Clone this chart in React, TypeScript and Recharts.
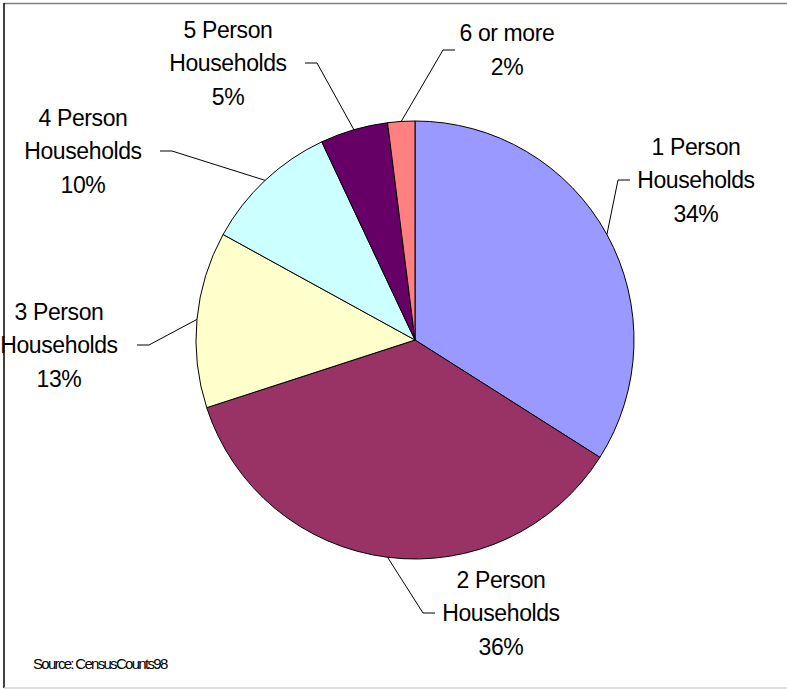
import React from 'react';
import { PieChart, Pie, Cell } from 'recharts';

// ---- data ----
const categories = [
  '1 Person Households',
  '2 Person Households',
  '3 Person Households',
  '4 Person Households',
  '5 Person Households',
  '6 or more',
];
const values = [34, 36, 13, 10, 5, 2];
const percentLabels = ['34%', '36%', '13%', '10%', '5%', '2%'];
const labelLines = [
  ['1 Person', 'Households'],
  ['2 Person', 'Households'],
  ['3 Person', 'Households'],
  ['4 Person', 'Households'],
  ['5 Person', 'Households'],
  ['6 or more'],
];
const sliceColors = ['#9999FF', '#993366', '#FFFFCC', '#CCFFFF', '#660066', '#FF8080'];
const sourceNote = 'Source: CensusCounts98';

// ---- layout (label boxes, not data) ----
const LABEL_LAYOUT = [
  { tx: 696, ty: 180, endX: 630, side: 1 },
  { tx: 501, ty: 613, endX: 435, side: 1 },
  { tx: 59, ty: 345, endX: 137, side: -1 },
  { tx: 83, ty: 151, endX: 160, side: -1 },
  { tx: 228, ty: 63, endX: 305, side: -1 },
  { tx: 507, ty: 50, endX: 455, side: 1 },
];
const LINE_H = 33.5;
const FONT = '"Liberation Sans", Arial, sans-serif';
const RADIAN = Math.PI / 180;

const data = categories.map((name, i) => ({ name, value: values[i] }));

function renderLabel(props: any) {
  const { cx, cy, midAngle, outerRadius, index } = props;
  const sx = cx + outerRadius * Math.cos(-midAngle * RADIAN);
  const sy = cy + outerRadius * Math.sin(-midAngle * RADIAN);
  const L = LABEL_LAYOUT[index];
  const ex = L.endX;
  const ey = L.ty;
  const mx = ex - 12 * L.side;
  const lines = [...labelLines[index], percentLabels[index]];
  const n = lines.length;
  return (
    <g key={`lbl-${index}`}>
      <polyline
        points={`${sx},${sy} ${mx},${ey} ${ex},${ey}`}
        fill="none"
        stroke="#000"
        strokeWidth={1}
      />
      <text
        x={L.tx}
        textAnchor="middle"
        fontFamily={FONT}
        fontSize={23}
        letterSpacing={-0.4}
        fill="#000"
      >
        {lines.map((t, i) => (
          <tspan key={i} x={L.tx} y={L.ty + (i - (n - 1) / 2) * LINE_H + 8}>
            {t}
          </tspan>
        ))}
      </text>
    </g>
  );
}

export default function App() {
  return (
    <div style={{ position: 'absolute', left: 0, top: 0, width: 787, height: 689, background: '#fff' }}>
      <PieChart width={787} height={689} margin={{ top: 0, right: 0, bottom: 0, left: 0 }}>
        <Pie
          data={data}
          dataKey="value"
          nameKey="name"
          cx={415}
          cy={340}
          outerRadius={219}
          startAngle={90}
          endAngle={-270}
          stroke="#000"
          strokeWidth={1}
          isAnimationActive={false}
          label={renderLabel}
          labelLine={false}
        >
          {data.map((d, i) => (
            <Cell key={d.name} fill={sliceColors[i]} />
          ))}
        </Pie>
      </PieChart>
      <svg
        width={787}
        height={689}
        style={{ position: 'absolute', left: 0, top: 0, pointerEvents: 'none' }}
      >
        <line x1={4} y1={3.5} x2={787} y2={3.5} stroke="#808080" strokeWidth={1.5} />
        <line x1={4} y1={3} x2={4} y2={688} stroke="#000" strokeWidth={1.5} />
        <line x1={4} y1={688} x2={787} y2={688} stroke="#d4d4d4" strokeWidth={1.5} />
        <text x={33} y={669} fontFamily={FONT} fontSize={15} letterSpacing={-1.7} fill="#000">
          {sourceNote}
        </text>
      </svg>
    </div>
  );
}
